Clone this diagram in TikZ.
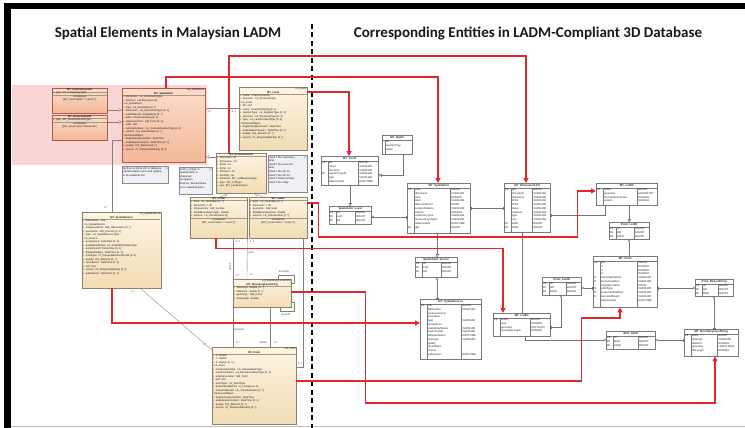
\documentclass[tikz,border=0pt]{standalone}
\usepackage{fontspec}
\setmainfont{Liberation Sans}
\newfontfamily\titlefont{Carlito}
\usetikzlibrary{arrows.meta,calc}
\definecolor{redl}{HTML}{E2262E}
\definecolor{umlfillA}{HTML}{FDF4E3}
\definecolor{umlfillB}{HTML}{F1DCB4}
\definecolor{peachA}{HTML}{FBDCCB}
\definecolor{peachB}{HTML}{F3B898}
\definecolor{umlborder}{HTML}{8F8068}
\definecolor{pinkreg}{HTML}{F9D5D6}
\definecolor{notefill}{HTML}{EFEFF6}
\definecolor{erborder}{HTML}{7A7A7A}
\definecolor{sepc}{HTML}{A89A80}
\definecolor{conn}{HTML}{808080}

\newcommand{\hsep}{\par\vspace{0.35pt}{\color{sepc}\hrule height 0.25pt}\vspace{0.35pt}}
\newcommand{\myat}[1]{+\hspace{1.5pt}#1\par}
\newcommand{\mysec}[1]{::#1\par}
\newcommand{\ctr}[1]{\hfill#1\hfill\null\par}
\newcommand{\rgt}[1]{\hfill#1\par}

\tikzset{
 umlb/.style={draw=umlborder, line width=0.35pt, top color=umlfillA, bottom color=umlfillB, inner sep=0pt},
 peachb/.style={draw=umlborder!70!red, line width=0.35pt, top color=peachA, bottom color=peachB, inner sep=0pt},
 umltxt/.style={font=\fontsize{2.6}{3.5}\selectfont, inner xsep=0.7pt, inner ysep=0.6pt, align=left, text=black!90},
 noteb/.style={draw=black!45, line width=0.3pt, fill=notefill, inner sep=0pt},
 notetxt/.style={font=\fontsize{2.6}{3.6}\selectfont, inner xsep=0.8pt, inner ysep=0.6pt, align=left, text=black!90},
 erbox/.style={draw=erborder, line width=0.4pt, fill=white, inner sep=0pt},
 erin/.style={draw=erborder, line width=0.3pt},
 ertitle/.style={font=\fontsize{2.8}{3}\selectfont\bfseries, text=black!85, inner sep=0pt},
 ertxt/.style={font=\fontsize{2.7}{3.75}\selectfont, inner xsep=0.8pt, inner ysep=0.3pt, align=left, text=black!85, execute at begin node=\strut},
 lbl/.style={font=\fontsize{2.6}{3}\selectfont, text=black!75, inner sep=0.3pt},
 ttl/.style={font=\titlefont\bfseries\fontsize{15}{17}\selectfont, text=black!90, inner sep=0pt},
 redarr/.style={draw=redl, line width=1.4pt, -{Triangle[length=5pt,width=5pt]}},
 cn/.style={draw=conn, line width=0.35pt},
 gen/.style={cn, -{Triangle[open,length=3.5pt,width=3.5pt]}},
 ec/.style={draw=black!55, line width=0.35pt},
}

\newcommand{\umlcls}[7]{%
 \node[#6, anchor=north west, minimum width=#4pt, minimum height=#5pt] (#1) at (#2,#3) {};
 \pgfmathsetmacro\umltw{#4-1.4}%
 \node[umltxt, anchor=north west, text width=\umltw pt] (#1t) at (#1.north west) {#7};
}
\newcommand{\umlnote}[6]{%
 \node[noteb, anchor=north west, minimum width=#4pt, minimum height=#5pt] (#1) at (#2,#3) {};
 \draw[draw=black!45, line width=0.3pt, fill=white] ($(#1.north east)+(-3,0)$) -- ($(#1.north east)+(0,3)$) -- ($(#1.north east)+(-3,3)$) -- cycle;
 \pgfmathsetmacro\umltw{#4-1.6}%
 \node[notetxt, anchor=north west, text width=\umltw pt] (#1t) at ($(#1.north west)+(0,0.5)$) {#6};
}
\newcommand{\ertab}[9]{%
 \pgfmathsetmacro\erw{#4-#2}\pgfmathsetmacro\erh{#5-#3}%
 \node[erbox, anchor=north west, minimum width=\erw pt, minimum height=\erh pt] (#1) at (#2,#3) {};
 \draw[erin] ($(#1.north west)+(0,5)$) -- ($(#1.north east)+(0,5)$);
 \node[ertitle] (#1h) at ($(#1.north)+(0,2.6)$) {#6};
 \draw[erin] ($(#1.north west)+(\erkw,5)$) -- ($(#1.south west)+(\erkw,0)$);
 \draw[erin] ($(#1.north east)+(-\ertw,5)$) -- ($(#1.south east)+(-\ertw,0)$);
 \node[ertxt, anchor=north west] (#1k) at ($(#1.north west)+(0,5.2)$) {#7};
 \node[ertxt, anchor=north west] (#1n) at ($(#1.north west)+(\erkw,5.2)$) {#8};
 \node[ertxt, anchor=north west] (#1y) at ($(#1.north east)+(-\ertw,5.2)$) {#9};
}

\begin{document}
\begin{tikzpicture}[x=1pt,y=-1pt]
\useasboundingbox (0,0) rectangle (745,428);
\fill[white] (0,0) rectangle (745,428);
\fill[pinkreg] (12,85) rectangle (207,165);
% frame
\fill[black] (4,3) rectangle (745,9);
\fill[black] (4,3) rectangle (11,428);
\draw[black!25, line width=0.6pt] (11,426.5) -- (745,426.5);
% titles
\node[ttl] (title1) at (168,33) {Spatial Elements in Malaysian LADM};
\node[ttl] (title2) at (528,33) {Corresponding Entities in LADM-Compliant 3D Database};
\draw[black, line width=1.5pt, dash pattern=on 5pt off 3.5pt] (312,24) -- (312,428);

% ---------------- UML classes ----------------
\umlcls{umlCust}{52}{88}{55}{25}{peachb}{%
\ctr{\textbf{MY\_CustomaryLand}}\hsep
\myat{type: MY\_CustomaryType}\hsep
\ctr{constraints}
\ctr{\{MY\_Level.name = 'Level 1'\}}}

\umlcls{umlRes}{52}{115}{55}{25}{peachb}{%
\ctr{\textbf{MY\_ReservedLand}}\hsep
\myat{type: MY\_ReservedLandType}\hsep
\ctr{constraints}
\ctr{\{MY\_Level.name='Reserved'\}}}

\umlcls{umlSU}{122}{88}{83}{74}{peachb}{%
\rgt{LA\_SpatialUnit}
\ctr{\textbf{MY\_SpatialUnit}}\hsep
\myat{dimension: LA\_DimensionType}
\myat{landUse: LandUseType [0]}
\mysec{LA\_SpatialUnit}
\myat{area: LA\_AreaValue [0..*]}
\myat{dimension: LA\_DimensionType [0..1]}
\myat{extAddressID: ExtAddress [0..*]}
\myat{label: CharacterString [0..1]}
\myat{referencePoint: GM\_Point [0..1]}
\myat{suID: Oid}
\myat{surfaceRelation: LA\_SurfaceRelationType [0..1]}
\myat{volume: LA\_VolumeValue [0..*]}
\mysec{VersionedObject}
\myat{beginLifespanVersion: DateTime}
\myat{endLifespanVersion: DateTime [0..1]}
\myat{quality: DQ\_Element [0..*]}
\myat{source: CI\_ResponsibleParty [0..*]}}

\umlcls{umlLevel}{239}{87}{68}{63}{umlb}{%
\rgt{LA\_Level}
\ctr{\textbf{MY\_Level}}\hsep
\myat{name: CharacterString}
\myat{structure: LA\_StructureType}
\mysec{LA\_Level}
\myat{lID: Oid}
\myat{name: CharacterString [0..1]}
\myat{registerType: LA\_RegisterType [0..1]}
\myat{structure: LA\_StructureType [0..1]}
\myat{type: LA\_LevelContentType [0..1]}
\mysec{VersionedObject}
\myat{beginLifespanVersion: DateTime}
\myat{endLifespanVersion: DateTime [0..1]}
\myat{quality: DQ\_Element [0..*]}
\myat{source: CI\_ResponsibleParty [0..*]}}

\umlcls{umlDim}{216}{153}{50}{40}{umlb}{%
\ctr{\textbf{MY\_DimensionUnit}}\hsep
\myat{2Dcustom: int}
\myat{2Dreserve: int}
\myat{2Dlot: int}
\myat{3Dlot: int}
\myat{3Dshare: int}
\myat{3Dutility: int}
\myat{measure: MY\_LotMeasureType}
\myat{type: MY\_CofType}
\myat{use: MY\_LandUseType}}

\umlcls{umlLot2D}{190}{197}{57}{41}{umlb}{%
\ctr{\textbf{MY\_Lot2D}}\hsep
\myat{area: LA\_AreaValue [1..*]}
\myat{dimension = 2D}
\myat{2Dgeometry: GM\_Surface}
\myat{2DlotBoundaryLength: double}
\myat{volume: LA\_VolumeValue [0]}\hsep
\ctr{constraints}
\ctr{\{MY\_Level.name = 'Level 2'\}}}

\umlcls{umlLot3D}{249}{197}{58}{41}{umlb}{%
\ctr{\textbf{MY\_Lot3D}}\hsep
\myat{area: LA\_AreaValue [0..*]}
\myat{dimension = 3D}
\myat{geometry: GM\_Solid}
\myat{3DlotBoundaryArea: double}
\myat{volume: LA\_VolumeValue [1..*]}\hsep
\ctr{constraints}
\ctr{\{MY\_Level.name = 'Level 3'\}}}

\umlcls{umlSS}{82}{212}{79}{76}{umlb}{%
\rgt{LA\_SpatialSource}
\ctr{\textbf{MY\_SpatialSource}}\hsep
\myat{fileNumber: char}
\mysec{LA\_SpatialSource}
\myat{measurements: OM\_Observation [0..*]}
\myat{procedure: OM\_Process [0..1]}
\myat{type: LA\_SpatialSourceType}
\mysec{LA\_Source}
\myat{acceptance: DateTime [0..1]}
\myat{availabilityStatus: LA\_AvailabilityStatusType}
\myat{extArchiveID: ExtArchive [0..1]}
\myat{lifeSpanStamp: DateTime [0..1]}
\myat{maintype: CI\_PresentationFormCode [0..1]}
\myat{quality: DQ\_Element [0..*]}
\myat{recordation: DateTime [0..1]}
\myat{sID: Oid}
\myat{source: CI\_ResponsibleParty [0..*]}
\myat{submission: DateTime [0..1]}}

\umlcls{umlBFS}{233}{279}{58}{28}{umlb}{%
\rgt{LA\_BoundaryFaceString}
\ctr{\textbf{MY\_BoundaryFaceString}}\hsep
\myat{fbearings: double [0..*]}
\myat{fdistance: double [0..*]}
\myat{geometry: GM\_Curve}
\myat{lineLength: double}}

\umlcls{umlPoint}{212}{347}{84}{77}{umlb}{%
\rgt{LA\_Point}
\ctr{\textbf{MY\_Point}}\hsep
\myat{X: double}
\myat{Y: double}
\myat{Z: double [0..1]}
\mysec{LA\_Point}
\myat{interpolationRole: LA\_InterpolationType}
\myat{monumentation: LA\_MonumentationType [0..1]}
\myat{originalLocation: GM\_Point}
\myat{pID: Oid}
\myat{pointType: LA\_PointType}
\myat{productionMethod: LI\_Lineage [0..1]}
\myat{transAndResult: LA\_Transformation [0..*]}
\mysec{VersionedObject}
\myat{beginLifespanVersion: DateTime}
\myat{endLifespanVersion: DateTime [0..1]}
\myat{quality: DQ\_Element [0..*]}
\myat{source: CI\_ResponsibleParty [0..*]}}

% notes
\umlnote{noteSU}{122}{166}{46}{17}{SuID is a critical UPI in Malaysia\par implementation and used applied\par in all cadastral lots}
\umlnote{noteLot}{179}{167}{33}{27}{If MY\_LotType is\par spatialUnit/is or\par temporary\par occupation\par licences, Blocks/Share\par is no cadastral piece}
\umlnote{noteDim}{268}{155}{39}{37}{Used if the customary\par land,\par Used if the reserved\par land,\par Used if the 2D lot,\par Used if the 3D lot,\par Used if strata (Share),\par Used if the utility.}

% UML connectors
\draw[cn] ($(umlSU.north east)+(0,20)$) -- ($(umlLevel.north west)+(0,21)$);
\draw[gen] ($(umlCust.north east)+(0,22)$) -- ($(umlSU.north west)+(0,22)$);
\draw[gen] ($(umlRes.north east)+(0,7)$) -- ($(umlSU.north west)+(0,34)$);
\draw[gen] ($(umlDim.north west)+(0,4)$) -- ($(umlSU.north east)+(0,69)$);
\draw[cn] ($(umlSU.north west)+(0,52)$) -| ($(umlSS.north west)+(30,0)$);
\draw[gen] ($(umlLot2D.north west)+(30,0)$) -- ($(umlDim.south west)+(12,0)$);
\draw[gen] ($(umlLot3D.north west)+(14,0)$) -- ($(umlDim.south east)+(-12,0)$);
\draw[cn] ($(umlSS.south east)+(-21,0)$) -- ($(umlPoint.north west)+(0,3)$);
\draw[cn] ($(umlLot2D.south west)+(43,0)$) -- ($(umlPoint.north west)+(21,0)$);
\draw[cn] (umlLot2D.south east) -- ($(umlBFS.north west)+(14,0)$);
\draw[cn] ($(umlBFS.south west)+(37,0)$) -- ($(umlPoint.north west)+(58,0)$);
\draw[cn] ($(umlLot3D.south east)+(-4,0)$) |- ($(umlPoint.north east)+(0,20)$);
\draw[cn] ($(umlBFS.north west)+(45,0)$) |- ($(umlBFS.north east)+(3,-4)$) |- ($(umlBFS.north east)+(0,4)$);
\draw[cn] ($(umlBFS.south west)+(47,0)$) |- ($(umlBFS.south east)+(3,4)$) |- ($(umlBFS.south east)+(0,-5)$);

% UML labels
\node[lbl] (l1) at (210,112) {0..*};
\node[lbl] (l2) at (234,112) {0..1};
\node[lbl] (l3) at (106,208) {0..*};
\node[lbl] (l4) at (133,292) {0..*};
\node[lbl] (l5) at (205,345) {1..*};
\node[lbl] (l6) at (238,242) {0..1};
\node[lbl] (l7) at (252,242) {0..1};
\node[lbl] (l8) at (251,253) {plus};
\node[lbl, rotate=90] (l9) at (230,267) {minus};
\node[lbl] (l10) at (238,276) {0..*};
\node[lbl] (l11) at (252,275) {0..*};
\node[lbl] (l12) at (239,330) {/Derived};
\node[lbl] (l13) at (238,343) {0..*};
\node[lbl] (l14) at (263,343) {+bndry};
\node[lbl] (l15) at (276,343) {0..*};
\node[lbl] (l16) at (300,364) {0..*};
\node[lbl] (l17) at (284,272) {bcsRight};
\node[lbl] (l18) at (286,315) {bcsLeft};

% ---------------- ER tables ----------------
\def\erkw{7}
\def\ertw{20}
\ertab{erLevel}{321}{156}{378}{185}{MY\_Level}{PK\\~\\~\\FK\\~\\~}{lID\\name\\structure\\registerTypeID\\type\\dateCreated}{BIGINT\\VARCHAR\\VARCHAR\\VARCHAR\\VARCHAR\\DATETIME}
\def\erkw{3}\def\ertw{0}
\ertab{erDepth}{382}{135}{412}{154}{MY\_Depth}{~}{ID\\registerType\\depth}{~}
\def\erkw{7}\def\ertw{16}
\ertab{erSUL}{329}{206}{371}{224}{SpatialUnit\_Level}{PK\\FK\\FK}{ID\\suID\\lID}{BIGINT\\BIGINT\\BIGINT}
\def\ertw{20}
\ertab{erSU}{407}{183}{470}{233}{MY\_SpatialUnit}{PK\\~\\~\\~\\~\\~\\~\\~\\~\\~\\FK}{suID\\dimension\\area\\label\\referencePoint\\surfaceRelation\\volume\\customaryType\\reservedLandType\\dateCreated\\gID}{BIGINT\\VARCHAR\\DOUBLE\\VARCHAR\\POINT\\VARCHAR\\DOUBLE\\VARCHAR\\VARCHAR\\DATETIME\\BIGINT}
\def\ertw{18}
\ertab{erDU}{504}{183}{550}{232}{MY\_DimensionUnit}{PK\\~\\~\\~\\~\\~\\~\\~\\~\\FK\\FK}{gID\\2Dcustom\\2Dreserve\\2Dlot\\3Dlot\\share\\measure\\type\\use\\lot2D\\lot3D}{BIGINT\\VARCHAR\\VARCHAR\\VARCHAR\\VARCHAR\\VARCHAR\\VARCHAR\\VARCHAR\\VARCHAR\\BIGINT\\BIGINT}
\def\ertw{20}
\ertab{erLot3D}{596}{183}{657}{205}{MY\_Lot3D}{PK\\~\\~\\~}{lot3ID\\geometry\\boundaryFaceArea\\volume}{BIGINT\\GEOMETRY\\DOUBLE\\DOUBLE}
\def\ertw{15}
\ertab{erPL3}{609}{222}{649}{239}{Point\_Lot3D}{PK\\FK\\FK}{ID\\pID\\lot3ID}{BIGINT\\BIGINT\\BIGINT}
\def\ertw{20}
\ertab{erPoint}{593}{256}{657}{307}{MY\_Point}{PK\\~\\~\\~\\N\\N\\~\\N\\N\\N\\~}{pID\\X\\Y\\Z\\interpolationRole\\monumentation\\originalLocation\\pointType\\productionMethod\\transAndResult\\dateCreated}{BIGINT\\DOUBLE\\DOUBLE\\DOUBLE\\VARCHAR\\VARCHAR\\POINT\\VARCHAR\\VARCHAR\\VARCHAR\\DATETIME}
\def\ertw{15}
\ertab{erPL2}{542}{277}{581}{295}{Point\_Lot2D}{PK\\FK\\FK}{ID\\pID\\lot2ID}{BIGINT\\BIGINT\\BIGINT}
\def\ertw{20}
\ertab{erLot2D}{493}{313}{550}{336}{MY\_Lot2D}{PK\\~\\~\\~}{lot2ID\\area\\geometry\\boundaryLength}{BIGINT\\DOUBLE\\POLYGON\\DOUBLE}
\def\ertw{17}
\ertab{erBFS2}{606}{331}{655}{349}{BFS\_lot2D}{PK\\FK\\FK}{ID\\bfsID\\lot2ID}{BIGINT\\BIGINT\\BIGINT}
\def\ertw{15}
\ertab{erPBFS}{695}{279}{733}{296}{Point\_BFaceString}{PK\\FK\\FK}{ID\\pID\\bfsID}{BIGINT\\BIGINT\\BIGINT}
\def\ertw{21}
\ertab{erBFS}{684}{329}{738}{356}{MY\_BoundaryFaceString}{PK\\~\\~\\~\\~}{bfsID\\bearings\\distance\\geometry\\bfsLength}{BIGINT\\VARCHAR\\DOUBLE\\LINESTRING\\DOUBLE}
\def\ertw{16}
\ertab{erSUS}{415}{257}{457}{277}{SpatialUnit\_Source}{PK\\FK\\FK}{ID\\suID\\sID}{BIGINT\\BIGINT\\BIGINT}
\def\ertw{20}
\ertab{erSS}{420}{299}{481}{359}{MY\_SpatialSource}{PK\\~\\~\\~\\~\\~\\~\\~\\~\\~\\~\\~\\~\\~}{sID\\fileNumber\\measurements\\procedure\\type\\acceptance\\availabilityStatus\\extArchiveID\\lifeSpanStamp\\maintype\\quality\\recordation\\source\\submission}{BIGINT\\VARCHAR\\~\\~\\VARCHAR\\~\\VARCHAR\\VARCHAR\\DATETIME\\VARCHAR\\~\\~\\~\\DATETIME}

% ER connectors
\draw[ec, {Bar[width=3pt]}-{Bar[width=3pt]Circle[open,length=2.6pt,width=2.6pt]}] ($(erDepth.south west)+(21,0)$) |- ($(erLevel.north east)+(0,19)$);
\draw[ec, {Bar[width=3pt]}-{Bar[width=3pt]Circle[open,length=2.6pt,width=2.6pt]}] ($(erLevel.south west)+(29,0)$) -- ($(erSUL.north west)+(21,0)$);
\draw[ec, {Bar[width=3pt]Circle[open,length=2.6pt,width=2.6pt]}-{Bar[width=3pt]Bar[width=3pt]}] ($(erSUL.north east)+(0,11)$) -- ($(erSU.north west)+(0,34)$);
\draw[ec, {Bar[width=3pt]Bar[width=3pt]}-{Bar[width=3pt]Bar[width=3pt]}] ($(erSU.north east)+(0,25)$) -- ($(erDU.north west)+(0,25)$);
\draw[ec, {Bar[width=3pt]}-{Bar[width=3pt]Circle[open,length=2.6pt,width=2.6pt]}] ($(erSU.south west)+(30,0)$) -- ($(erSUS.north west)+(22,0)$);
\draw[ec, {Circle[open,length=2.6pt,width=2.6pt]}-{Bar[width=3pt]Bar[width=3pt]}] ($(erSUS.south west)+(22,0)$) -- ($(erSS.north west)+(17,0)$);
\draw[ec, {Bar[width=3pt]Bar[width=3pt]}-{Bar[width=3pt]}] ($(erDU.north east)+(0,32)$) -| ($(erLot3D.south west)+(9,0)$);
\draw[ec, {Bar[width=3pt]}-{Bar[width=3pt]}] ($(erDU.south west)+(18,0)$) -- ($(erLot2D.north west)+(29,0)$);
\draw[ec, {Bar[width=3pt]}-{Bar[width=3pt]Circle[open,length=2.6pt,width=2.6pt]}] ($(erLot3D.south west)+(33,0)$) -- ($(erPL3.north west)+(20,0)$);
\draw[ec, {Circle[open,length=2.6pt,width=2.6pt]}-{Bar[width=3pt]}] ($(erPL3.south west)+(20,0)$) -- ($(erPoint.north west)+(36,0)$);
\draw[ec, {Circle[open,length=2.6pt,width=2.6pt]}-{Bar[width=3pt]Bar[width=3pt]}] ($(erPL2.north east)+(0,11)$) -- ($(erPoint.north west)+(0,32)$);
\draw[ec, {Circle[open,length=2.6pt,width=2.6pt]}-{Bar[width=3pt]Bar[width=3pt]}] ($(erPL2.south west)+(19,0)$) |- ($(erLot2D.north east)+(0,14)$);
\draw[ec, {Bar[width=3pt]}-{Circle[open,length=2.6pt,width=2.6pt]}] ($(erLot2D.south west)+(32,0)$) |- ($(erBFS2.north west)+(0,9)$);
\draw[ec, {Circle[open,length=2.6pt,width=2.6pt]}-{Bar[width=3pt]Bar[width=3pt]}] ($(erBFS2.north east)+(0,9)$) -- ($(erBFS.north west)+(0,11)$);
\draw[ec, {Bar[width=3pt]Bar[width=3pt]}-{Circle[open,length=2.6pt,width=2.6pt]}] ($(erPoint.north east)+(0,32)$) -- ($(erPBFS.north west)+(0,9)$);
\draw[ec, {Circle[open,length=2.6pt,width=2.6pt]}-{Bar[width=3pt]Bar[width=3pt]}] ($(erPBFS.south west)+(19,0)$) -- ($(erBFS.north west)+(30,0)$);

% ---------------- red correspondence arrows ----------------
\draw[redarr] ($(umlSU.north west)+(44,0)$) -- ++(0,-11) -| ($(erSU.north west)+(31,0)$);
\draw[redarr] ($(umlDim.north west)+(13,0)$) -- ++(0,-97) -| ($(erDU.north west)+(22,0)$);
\draw[redarr] ($(umlLevel.north east)+(0,5)$) -| ($(erLevel.north west)+(28,0)$);
\draw[redarr] ($(umlLot3D.north east)+(0,6)$) -- ++(11,0) -- ++(0,34) -- ++(259,0) |- ($(erLot3D.north west)+(0,8)$);
\draw[redarr] ($(umlLot2D.south west)+(26,0)$) -- ++(0,10) -| ($(erLot2D.north west)+(10,0)$);
\draw[redarr] ($(umlSS.south west)+(30,0)$) |- ($(erSS.north west)+(0,24)$);
\draw[redarr] ($(umlPoint.north east)+(0,34)$) -- ++(285,0) -- ++(0,-63) -| ($(erPoint.south west)+(27,0)$);
\draw[redarr] ($(umlBFS.north east)+(0,13)$) -- ++(74,0) -- ++(0,111) -| ($(erBFS.south west)+(31,0)$);
\end{tikzpicture}
\end{document}
